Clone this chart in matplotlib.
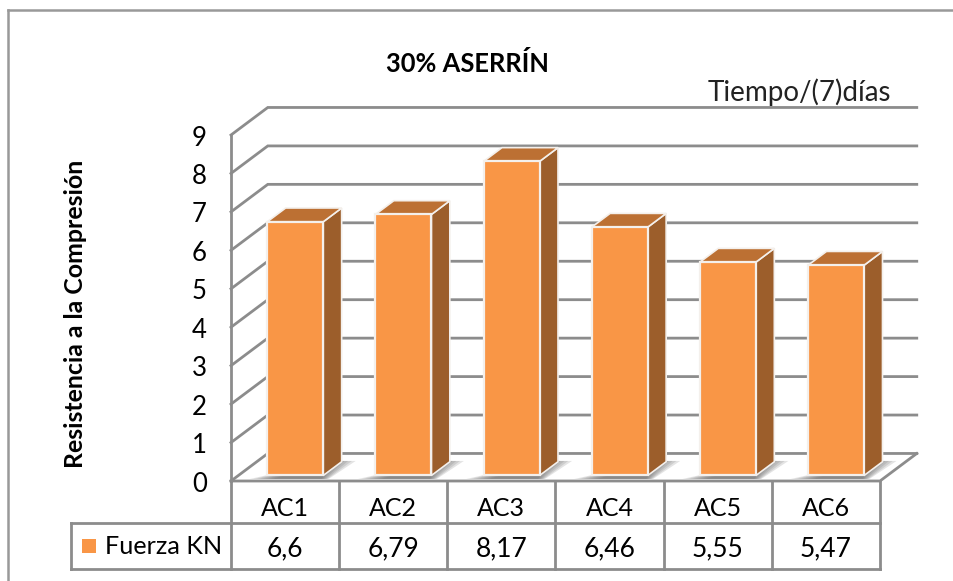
import matplotlib
matplotlib.use('Agg')
import matplotlib.pyplot as plt
from matplotlib.patches import Polygon, Rectangle

categories = ['AC1', 'AC2', 'AC3', 'AC4', 'AC5', 'AC6']
fuerza = [6.6, 6.79, 8.17, 6.46, 5.55, 5.47]
value_labels = ['6,6', '6,79', '8,17', '6,46', '5,55', '5,47']
y_ticks = [0, 1, 2, 3, 4, 5, 6, 7, 8, 9]

W, H = 954, 581
LINE = '#8c8c8c'
FRONT = '#F99646'
SIDE = '#9C5E2B'
TOP = '#BC7033'

# depth of the 3d box, in category / value units
DX = 0.34
DY = 0.716
BAR_WIDTH = 0.518
BAR_LEFT = 0.335

plt.rcParams['font.family'] = ['Lato', 'DejaVu Sans']

fig = plt.figure(figsize=(W / 100, H / 100), dpi=100)

# page level axes in pixels, for the frame, table and text
page = fig.add_axes([0, 0, 1, 1])
page.set_xlim(0, W)
page.set_ylim(H, 0)
page.axis('off')

# chart axes sit on the front plane of the box
left, right, y0, y9 = 231, 880, 481, 135
ax = fig.add_axes([left / W, 1 - y0 / H, (right - left) / W, (y0 - y9) / H])
ax.set_xlim(0, len(categories))
ax.set_ylim(0, 9)
ax.axis('off')
ax.patch.set_alpha(0)

# outer frame
page.plot([8, 8], [10, H], color='#999999', lw=1.8)
page.plot([8, W], [10, 10], color='#999999', lw=1.8)

n = len(categories)
for v in y_ticks:
    ax.plot([0, DX, n + DX], [v, v + DY, v + DY], color=LINE, lw=2, clip_on=False, zorder=1,
            solid_joinstyle='miter')
ax.plot([0, 0], [0, 9], color=LINE, lw=2, clip_on=False, zorder=1)
ax.plot([0, n, n + DX], [0, 0, DY], color=LINE, lw=2, clip_on=False, zorder=1, solid_joinstyle='miter')

for i, val in enumerate(fuerza):
    x0 = i + BAR_LEFT
    x1 = x0 + BAR_WIDTH
    b = 0.2 * DY
    sx = 0.5 * DX
    sy = 0.5 * DY

    # soft shadow on the floor
    for k in range(7):
        g = 0.035 * k
        ax.add_patch(Polygon([(x0 - 0.16 + g, b - 0.09), (x1 + 0.05 - g * 0.3, b - 0.09),
                              (x1 + sx + 0.13 - g, b + sy + 0.02), (x1 + sx - 0.1, b + sy + 0.02)],
                             closed=True, fc='#606060', ec='none', alpha=0.17, zorder=2, clip_on=False))

    ax.add_patch(Polygon([(x1, b), (x1 + sx, b + sy), (x1 + sx, val + b + sy), (x1, val + b)],
                         closed=True, fc=SIDE, ec='#f4f0ec', lw=1.2, zorder=3, clip_on=False))
    ax.add_patch(Polygon([(x0, val + b), (x1, val + b), (x1 + sx, val + b + sy), (x0 + sx, val + b + sy)],
                         closed=True, fc=TOP, ec='#f4f0ec', lw=1.2, zorder=3, clip_on=False))
    ax.add_patch(Rectangle((x0, b), BAR_WIDTH, val, fc=FRONT, ec='#f4f0ec', lw=1.6, zorder=4, clip_on=False))

# data table under the chart
row1, row2 = 523, 568.5
cell = (right - left) / n
for i in range(n + 1):
    x = left + i * cell
    page.plot([x, x], [y0, row2], color=LINE, lw=2)
page.plot([71, right], [row1, row1], color=LINE, lw=2)
page.plot([71, right], [row2, row2], color=LINE, lw=2)
page.plot([71, 71], [row1, row2], color=LINE, lw=2)

page.add_patch(Rectangle((82, 539), 14, 14, fc=FRONT, ec='none'))
page.text(105, 546, 'Fuerza KN', fontsize=18.2, color='black', ha='left', va='center')

for i in range(n):
    xc = left + (i + 0.5) * cell
    page.text(xc, 509, categories[i], fontsize=18, ha='center', va='center', color='black')
    page.text(xc, 549, value_labels[i], fontsize=19, ha='center', va='center', color='black')

for v in y_ticks:
    page.text(207, y0 + 3 - (y0 - y9) * v / 9, str(v), fontsize=18.5, ha='right', va='center', color='black')

page.text(467, 64, '30% ASERRÍN', fontsize=18.4, fontweight='bold', ha='center', va='center', color='black')
page.text(891, 92, 'Tiempo/(7)días', fontsize=20, ha='right', va='center', color='#222222')
page.text(76, 314, 'Resistencia a la Compresión', fontsize=17.9, fontweight='bold', rotation=90,
          ha='center', va='center', color='black')

fig.savefig('out.png', dpi=100)
